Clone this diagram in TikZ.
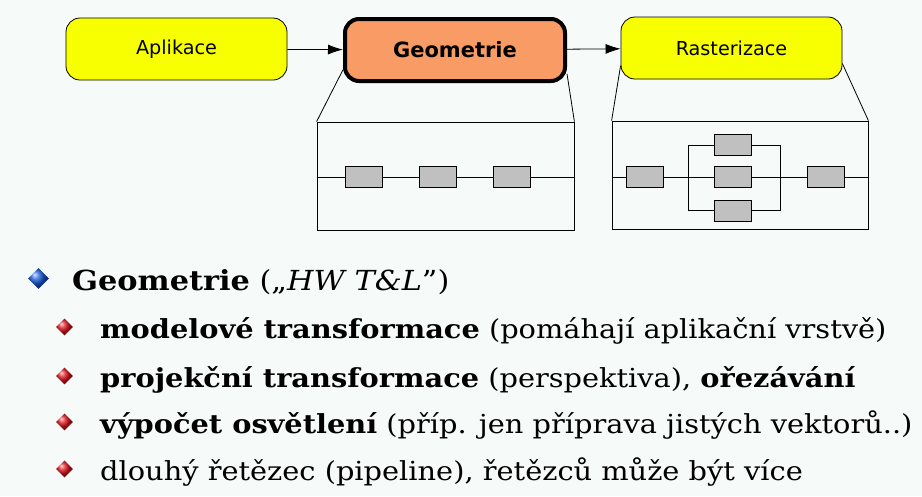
\documentclass[tikz,border=0pt]{standalone}
\usepackage{fontspec}
\setmainfont{DejaVu Serif}[FakeStretch=1.1]
\newfontfamily\boxfont{DejaVu Sans}
\usepackage{tikz}
\usetikzlibrary{arrows.meta,positioning,shapes.geometric,calc}
\definecolor{bgcol}{RGB}{246,250,248}
\definecolor{stageyellow}{RGB}{248,255,0}
\definecolor{stageorange}{RGB}{249,155,100}
\definecolor{unitgray}{RGB}{192,192,192}
\definecolor{bulletblue}{RGB}{25,90,220}
\definecolor{bulletred}{RGB}{225,20,30}

\begin{document}
\begin{tikzpicture}[x=1pt,y=-1pt,
stage/.style={draw,rounded corners=14pt,fill=stageyellow,minimum width=221pt,minimum height=62pt,font=\boxfont\fontsize{19.2}{22}\selectfont,line width=0.8pt},
mainstage/.style={stage,fill=stageorange,line width=4pt,minimum width=220pt,minimum height=62pt,font=\boxfont\bfseries\fontsize{21}{24}\selectfont},
detail/.style={draw,minimum width=256pt,minimum height=108pt,line width=0.8pt},
unit/.style={draw,fill=unitgray,minimum width=37pt,minimum height=21pt,inner sep=0pt,line width=0.8pt},
arr/.style={-{Latex[length=15pt,width=10pt]},line width=0.8pt},
link/.style={line width=0.8pt},
bigbullet/.style={diamond,inner sep=0pt,minimum size=21pt,ball color=bulletblue},
smallbullet/.style={diamond,inner sep=0pt,minimum size=17pt,ball color=bulletred},
line/.style={anchor=base west,inner sep=0pt,font=\fontsize{26.2}{30}\selectfont}]
\fill[bgcol] (0,0) rectangle (922,496);
\useasboundingbox (0,0) rectangle (922,496);
% pipeline stages
\node[stage](aplikace) at (176.5,49){Aplikace};
\node[mainstage](geometrie) at (455,50){Geometrie};
\node[stage](rasterizace) at (731.5,48){Rasterizace};
\draw[arr](aplikace)--(geometrie);
\draw[arr](geometrie)--(rasterizace);
% detail of geometry
\node[detail,minimum width=257pt](geomdetail) at (445.5,176){};
\draw[link](geomdetail.north west)--(geometrie.190);
\draw[link](geomdetail.north east)--(geometrie.348);
\foreach \i/\x in {1/363.5,2/437.5,3/511.5}
  \node[unit](g\i) at (\x,177){};
\draw[link](geomdetail.west|-g1)--(g1)--(g2)--(g3)--(geomdetail.east|-g3);
% detail of rasterization
\node[detail](rastdetail) at (740,175){};
\draw[link](rastdetail.north west)--(rasterizace.189);
\draw[link](rastdetail.north east)--(rasterizace.352);
\node[unit](r1) at (645,177){};
\node[unit](rtop) at (733,145){};
\node[unit](rmid) at (733,177){};
\node[unit](rbot) at (733,210.5){};
\node[unit](r5) at (826,177){};
\coordinate (splitl) at (688,177);
\coordinate (splitr) at (780,177);
\draw[link](rastdetail.west|-r1)--(r1)--(rmid)--(r5)--(rastdetail.east|-r5);
\draw[link](rtop)--(rtop-|splitl)--(rbot-|splitl)--(rbot);
\draw[link](rtop)--(rtop-|splitr)--(rbot-|splitr)--(rbot);
% bullet list
\node[bigbullet](b0) at (38.5,278.5){};
\node[line,font=\fontsize{27.6}{32}\selectfont](t0) at (72,290){\textbf{Geometrie} („\textit{HW T\&L}”)};
\foreach \i/\y in {1/338,2/387,3/433,4/480}
  \node[smallbullet](b\i) at (64.5,\y-11){};
\node[line](t1) at (100,338){\textbf{modelové transformace} (pomáhají aplikační vrstvě)};
\node[line](t2) at (100,387){\textbf{projekční transformace} (perspektiva), \textbf{ořezávání}};
\node[line](t3) at (100,433){\textbf{výpočet osvětlení} (příp. jen příprava jistých vektorů..)};
\node[line](t4) at (100,480){dlouhý řetězec (pipeline), řetězců může být více};
\end{tikzpicture}
\end{document}
